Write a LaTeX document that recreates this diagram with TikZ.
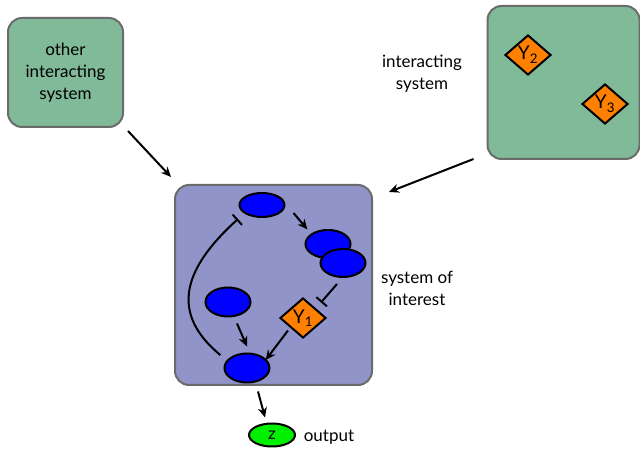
\documentclass[tikz,border=0pt]{standalone}
\usepackage{fontspec}
\setmainfont{Lato}
\usetikzlibrary{arrows.meta,shapes.geometric}
\definecolor{sysGreen}{HTML}{80BA99}
\definecolor{sysPurple}{HTML}{9194C9}
\definecolor{sysEdge}{HTML}{6B6B6B}
\definecolor{speciesBlue}{HTML}{0000FF}
\definecolor{inputOrange}{HTML}{FF8000}
\definecolor{outputGreen}{HTML}{00F000}

\begin{document}
\begin{tikzpicture}[
  x=1pt,
  y=1pt,
  system/.style={
    rounded corners=14pt,
    draw=sysEdge,
    line width=2pt,
    inner sep=0pt
  },
  species/.style={
    ellipse,
    draw=black,
    fill=speciesBlue,
    line width=2pt,
    inner sep=0pt,
    minimum width=45pt,
    minimum height=27pt
  },
  input/.style={
    diamond,
    draw=black,
    fill=inputOrange,
    line width=2pt,
    inner sep=0pt,
    minimum width=46pt,
    minimum height=40pt,
    font=\fontsize{19}{19}\selectfont
  },
  label/.style={font=\fontsize{17}{22}\selectfont, align=center},
  act/.style={-{Stealth[length=10pt,width=9pt]}, line width=2pt},
  inhib/.style={-{Bar[width=14pt,line width=2pt]}, line width=2pt}
]

\path[use as bounding box] (0,0) rectangle (640,452);

% surrounding systems
\node[system, fill=sysGreen, minimum width=115pt, minimum height=109pt, label] (other) at (65.5,379.5)
  {other\\interacting\\system};
\node[system, fill=sysGreen, minimum width=152pt, minimum height=153pt] (inter) at (563.5,369.5) {};
\node[label] (intertext) at (422,378) {interacting\\system};
\node[input] (y2) at (528,397) {Y\textsubscript{2}};
\node[input] (y3) at (605,348) {Y\textsubscript{3}};

% system of interest
\node[system, fill=sysPurple, minimum width=197pt, minimum height=200pt] (soi) at (273.5,167) {};
\node[label] (soitext) at (417,164) {system of\\interest};

\node[species, minimum height=24pt] (top) at (262,247) {};
\node[species, minimum height=28pt] (da) at (328,208) {};
\node[species, minimum height=28pt] (db) at (343,189) {};
\node[species, minimum height=29pt] (left) at (228,150) {};
\node[species, minimum height=29pt] (bot) at (247,84) {};
\node[input] (y1) at (303,134) {Y\textsubscript{1}};

\node[ellipse, draw=black, fill=outputGreen, line width=2pt, inner sep=0pt,
  minimum width=46pt, minimum height=23pt, font=\fontsize{17}{17}\selectfont] (z) at (272,17) {z};
\node[label] (outtext) at (329,15) {output};

% interactions
\draw[act] ([xshift=4pt,yshift=-3pt]other.south east) -- ([xshift=-3pt,yshift=7pt]soi.north west);
\draw[act] ([xshift=-13pt,yshift=1pt]inter.south west) -- ([xshift=16pt,yshift=-8pt]soi.north east);
\draw[act] ([xshift=8pt,yshift=-8pt]top.east) -- ([xshift=-4pt,yshift=4pt]da.north west);
\draw[inhib] ([xshift=-6pt,yshift=-6pt]db.south) -- ([xshift=6pt,yshift=5pt]y1.north east);
\draw[act] ([xshift=-3pt,yshift=-2pt]y1.south west) -- ([xshift=2pt,yshift=-3pt]bot.north east);
\draw[act] ([xshift=9pt,yshift=-6pt]left.south) -- ([yshift=6pt]bot.north);
\draw[inhib] ([xshift=-10pt,yshift=2pt]bot.north west) .. controls (168,140) and (185,185) .. ([xshift=-24pt,yshift=-1pt]top.south);
\draw[act] ([xshift=11pt,yshift=-8pt]bot.south) -- ([xshift=-7pt,yshift=5pt]z.north);
\end{tikzpicture}
\end{document}
